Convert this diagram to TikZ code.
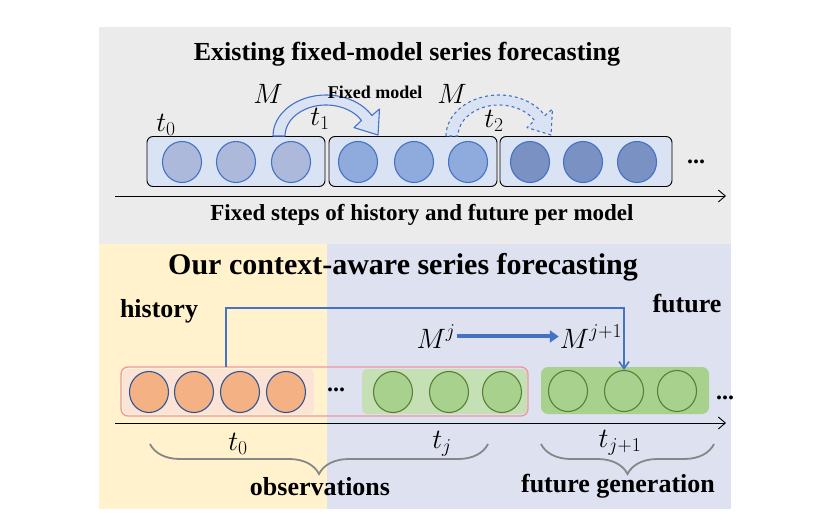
\RequirePackage{fix-cm}
\documentclass[tikz,border=0pt]{standalone}
\usepackage{fontspec}
\setmainfont{Liberation Serif}
\usepackage{tikz}
\usetikzlibrary{arrows.meta, positioning, shapes.geometric, calc, decorations.pathreplacing}
\definecolor{panelgray}{RGB}{235, 235, 235}
\definecolor{histyellow}{RGB}{255, 242, 204}
\definecolor{futlavender}{RGB}{222, 225, 240}
\definecolor{boxblue}{RGB}{218, 227, 243}
\definecolor{cellblue}{RGB}{68, 114, 196}
\definecolor{cellA}{RGB}{173, 185, 219}
\definecolor{cellB}{RGB}{143, 170, 220}
\definecolor{cellC}{RGB}{122, 145, 196}
\definecolor{obsorange}{RGB}{244, 177, 131}
\definecolor{obspeach}{RGB}{251, 228, 213}
\definecolor{obspink}{RGB}{240, 150, 160}
\definecolor{obsgreen}{RGB}{197, 224, 180}
\definecolor{futgreen}{RGB}{169, 209, 142}
\definecolor{darkgreen}{RGB}{84, 130, 53}
\definecolor{darkblue}{RGB}{47, 85, 151}
\definecolor{bracegray}{RGB}{135, 135, 135}

\begin{document}
\begin{tikzpicture}[
    x=1pt, y=-1pt,
    title/.style={font=\bfseries\fontsize{26}{30}\selectfont, anchor=base},
    lbl/.style={font=\bfseries\fontsize{26}{30}\selectfont, anchor=base, inner sep=0pt},
    mlbl/.style={font=\fontsize{28}{32}\selectfont, anchor=base, inner sep=1pt},
    dots/.style={font=\bfseries\fontsize{24}{28}\selectfont, inner sep=0pt},
    stepbox/.style={rectangle, draw=black, fill=boxblue, rounded corners=6pt, line width=0.9pt, minimum height=50pt},
    cell/.style={ellipse, draw=cellblue, line width=1.1pt, minimum width=39pt, minimum height=41pt, inner sep=0pt},
    ocell/.style={cell, draw=darkblue, fill=obsorange},
    gcell/.style={cell, draw=darkgreen, fill=futgreen},
    hollow/.style={draw=cellblue, fill=boxblue, line width=1.1pt, line join=round},
    axis/.style={-{Straight Barb[length=7pt, width=12pt]}, line width=0.9pt},
    link/.style={-{Straight Barb[length=7pt, width=10pt]}, draw=cellblue, line width=1.6pt},
    fatarrow/.style={-{Triangle[length=9pt, width=12pt]}, draw=cellblue, line width=4pt},
    brace/.style={decorate, decoration={brace, mirror, amplitude=30pt}, draw=bracegray, line width=1.8pt}
]
\useasboundingbox (0,0) rectangle (838,527);

% backgrounds
\fill[panelgray] (99,27) rectangle (731,244);
\fill[histyellow] (99,244) rectangle (327,509);
\fill[futlavender] (327,244) rectangle (731,509);

% top panel: fixed model
\node[title] (toptitle) at (407,60) {Existing fixed-model series forecasting};

\node[stepbox, minimum width=178pt] (box1) at (236,161.5) {};
\node[stepbox, minimum width=168pt] (box2) at (413,161.5) {};
\node[stepbox, minimum width=172pt] (box3) at (586,161.5) {};

\foreach \x [count=\i] in {182,236,291} \node[cell, fill=cellA] (a\i) at (\x,162) {};
\foreach \x [count=\i] in {358,414,468} \node[cell, fill=cellB] (b\i) at (\x,162) {};
\foreach \x [count=\i] in {530,583,637} \node[cell, fill=cellC] (c\i) at (\x,162) {};
\node[dots] (topdots) at (696,162) {...};

% hollow arrows for the fixed model
\foreach \cx/\sty in {326/solid, 499/dashed} {
  \draw[hollow, \sty] ({\cx-53},136) arc[start angle=180, end angle=330, x radius=53, y radius=41]
    -- ({\cx+53.5},109) -- ({\cx+52},135) -- ({\cx+28},127.6) -- ({\cx+35.5},120.5)
    arc[start angle=330, end angle=180, x radius=41, y radius=31] -- cycle;
}

\node[mlbl] (t0) at (166,131) {$t_0$};
\node[mlbl] (t1) at (320,125) {$t_1$};
\node[mlbl] (t2) at (494,127) {$t_2$};
\node[mlbl] (M1) at (268,103) {$M$};
\node[mlbl] (M2) at (452,103) {$M$};
\node[lbl, font=\bfseries\fontsize{18}{20}\selectfont] (fixed) at (375,98) {Fixed model};

\coordinate (ax1s) at (115,196);
\coordinate (ax1e) at (726,196);
\draw[axis] (ax1s) -- (ax1e);
\node[lbl, font=\bfseries\fontsize{23}{26}\selectfont] (steps) at (422,220) {Fixed steps of history and future per model};

% bottom panel: context-aware
\node[title, font=\bfseries\fontsize{30}{34}\selectfont] (bottitle) at (403,274) {Our context-aware series forecasting};
\node[lbl] (hist) at (159,317) {history};
\node[lbl] (fut) at (687,312) {future};

\fill[obspeach, rounded corners=5pt] (123,369) rectangle (314,414);
\fill[obsgreen, rounded corners=5pt] (362,369) rectangle (527,414);
\node[rectangle, draw=obspink, line width=1.3pt, rounded corners=7pt, minimum width=407pt, minimum height=49pt] (obs) at (324.5,391.5) {};
\node[rectangle, fill=futgreen, rounded corners=7pt, minimum width=168pt, minimum height=47pt] (futbox) at (625,390.5) {};

\foreach \x [count=\i] in {149,194,240,286} \node[ocell] (o\i) at (\x,392) {};
\foreach \x [count=\i] in {393,449,502} \node[gcell] (h\i) at (\x,392) {};
\foreach \x [count=\i] in {568,624,677} \node[gcell] (g\i) at (\x,391) {};
\node[dots] (middots) at (336,390) {...};
\node[dots] (botdots) at (725,398) {...};

\node[mlbl] (Mj) at (436,348) {$M^j$};
\node[mlbl] (Mj1) at (591,348) {$M^{j+1}$};
\draw[fatarrow] (Mj.east) -- (Mj.east -| Mj1.west);

\coordinate (hstart) at (226,367);
\draw[link] (hstart) -- ++(0,-59) -| (g2.north);

\coordinate (ax2s) at (115,423);
\coordinate (ax2e) at (726,423);
\draw[axis] (ax2s) -- (ax2e);

\node[mlbl] (bt0) at (238,450) {$t_0$};
\node[mlbl] (btj) at (442,448) {$t_j$};
\node[mlbl] (btj1) at (620,447) {$t_{j+1}$};

\coordinate (br1s) at (150,444);
\coordinate (br1e) at (488,444);
\coordinate (br2s) at (541,444);
\coordinate (br2e) at (714,444);
\draw[brace] (br1s) -- (br1e);
\draw[brace] (br2s) -- (br2e);
\node[lbl] (obslbl) at (320,495) {observations};
\node[lbl] (genlbl) at (618,492) {future generation};

\end{tikzpicture}
\end{document}
